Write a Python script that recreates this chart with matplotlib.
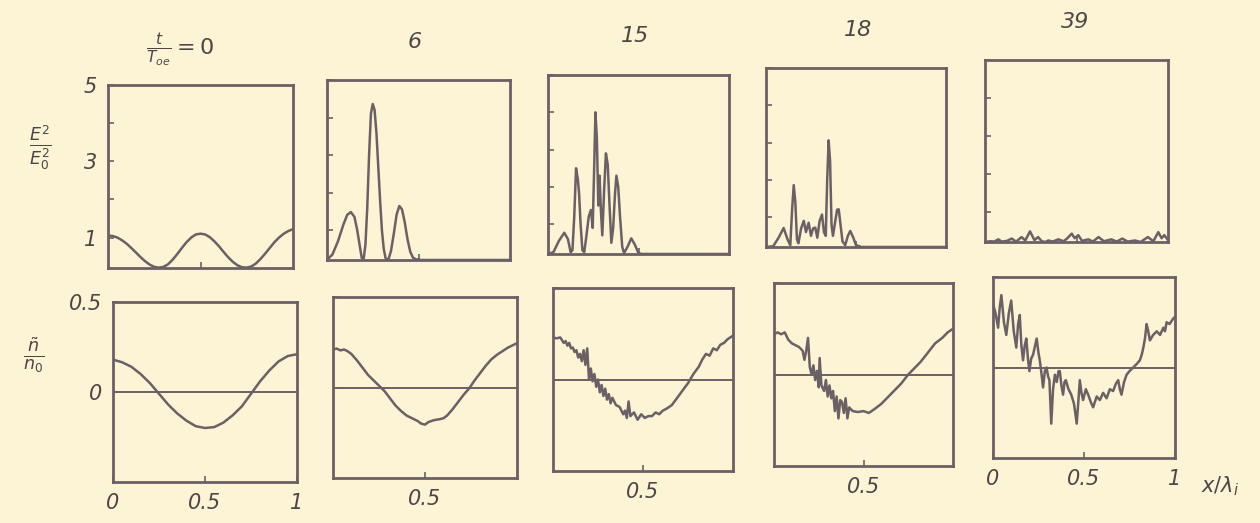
import matplotlib
matplotlib.use("Agg")
import matplotlib.pyplot as plt

plt.rcParams['font.family'] = ['DejaVu Sans']
plt.rcParams['mathtext.fontset'] = 'dejavusans'
plt.rcParams['mathtext.default'] = 'it'

BG = '#fcf4d5'
LC = '#6b6065'
TC = '#4e4547'

# ---------------- data ----------------
times = ['0', '6', '15', '18', '39']

# E^2/E0^2 (top row)
e_x0 = [0, .025, .05, .075, .1, .125, .15, .175, .2, .225, .25, .275, .3, .325, .35, .375, .4, .425, .45, .475,
        .5, .525, .55, .575, .6, .625, .65, .675, .7, .725, .75, .775, .8, .825, .85, .875, .9, .925, .95, .975, 1.0]
e_y0 = [1.05, 1.04, 1.0, .93, .84, .73, .61, .49, .38, .29, .23, .21, .23, .30, .42, .57, .73, .88, 1.0, 1.08,
        1.1, 1.08, 1.01, .90, .77, .62, .48, .36, .27, .22, .21, .24, .32, .44, .58, .73, .88, 1.0, 1.1, 1.17, 1.22]

e_x6 = [0, .03, .06, .09, .11, .13, .15, .165, .18, .19, .2, .21, .22, .23, .24, .25, .26, .27, .28, .29, .30,
        .31, .32, .335, .35, .365, .38, .395, .41, .425, .44, .455, .47, .49, .5, .51, 1.0]
e_y6 = [.2, .35, .7, 1.15, 1.40, 1.48, 1.35, 1.0, .55, .25, .22, .6, 1.6, 3.0, 4.1, 4.36, 4.2, 3.6, 2.7, 1.8, 1.0,
        .5, .25, .2, .45, .9, 1.4, 1.64, 1.55, 1.2, .75, .42, .26, .21, .22, .2, .2]

e_x15 = [0, .03, .06, .09, .11, .125, .135, .145, .155, .165, .172, .18, .19, .2, .21, .225, .237, .247, .255,
         .262, .27, .278, .285, .292, .3, .31, .32, .33, .34, .35, .36, .37, .378, .388, .398, .41, .42, .44,
         .46, .48, .5, .52, 1.0]
e_y15 = [.2, .25, .55, .77, .6, .25, .3, 1.2, 2.5, 2.2, 1.8, 1.0, .3, .25, .6, 1.2, 1.38, .9, 2.5,
         4.0, 3.3, 1.5, 2.3, 1.4, .7, 1.9, 2.9, 2.6, 1.5, .5, .9, 1.8, 2.3, 2.0, 1.2, .4, .22, .4,
         .62, .45, .22, .2, .2]

e_x18 = [0, .04, .07, .098, .12, .135, .145, .154, .163, .172, .18, .195, .21, .222, .237, .25, .262, .274,
         .285, .298, .311, .322, .332, .34, .348, .356, .364, .372, .385, .395, .404, .414, .425, .44, .455,
         .468, .485, .5, .53, 1.0]
e_y18 = [.2, .22, .45, .71, .4, .25, 1.2, 1.86, 1.4, .4, .3, .7, .9, .6, .85, .5, .7, .72,
         .45, .9, 1.07, .6, .5, 2.0, 3.06, 2.5, .8, .5, .9, 1.2, 1.21, .8, .35, .25, .5,
         .63, .45, .25, .2, .2]

e_x39 = [0, .03, .05, .073, .09, .12, .146, .17, .2, .22, .246, .27, .29, .31, .33, .346, .37, .4, .43, .45,
         .474, .49, .51, .53, .565, .59, .62, .65, .69, .72, .75, .78, .82, .85, .89, .92, .947, .965, .98, 1.0]
e_y39 = [.2, .22, .21, .27, .21, .23, .29, .21, .33, .24, .48, .25, .33, .22, .2, .24, .21, .27, .22, .3,
         .42, .3, .38, .23, .27, .21, .33, .22, .27, .21, .29, .21, .24, .2, .33, .22, .46, .3, .38, .25]

# n~/n0 (bottom row)
n_x0 = [0, .05, .1, .15, .2, .25, .3, .35, .4, .45, .5, .55, .6, .65, .7, .75, .8, .85, .9, .95, 1.0]
n_y0 = [.18, .165, .14, .10, .05, -.01, -.07, -.12, -.16, -.19, -.20, -.195, -.17, -.13, -.08, -.01,
        .06, .12, .17, .20, .21]

n_x6 = [0, .02, .04, .06, .08, .1, .13, .16, .19, .22, .25, .28, .31, .34, .37, .4, .43, .46, .48, .5, .52,
        .55, .58, .6, .62, .65, .68, .71, .74, .77, .8, .83, .86, .89, .92, .95, .98, 1.0]
n_y6 = [.21, .215, .205, .21, .20, .185, .15, .11, .07, .04, .01, -.02, -.06, -.10, -.13, -.155, -.17, -.185,
        -.2, -.205, -.19, -.18, -.175, -.17, -.155, -.12, -.08, -.04, -.005, .04, .08, .12, .155, .18, .2,
        .22, .235, .245]

n_x15 = [0, .02, .04, .06, .07, .08, .09, .1, .11, .12, .13, .14, .15, .16, .17, .18, .19, .2, .21, .22, .23,
         .24, .25, .26, .27, .28, .29, .3, .31, .32, .33, .35, .37, .39, .40, .41, .42, .43, .45, .47, .49,
         .51, .53, .55, .57, .59, .61, .63, .66, .69, .72, .75, .78, .81, .83, .85, .87, .89, .91, .93, .95,
         .97, 1.0]
n_y15 = [.23, .225, .23, .2, .21, .185, .2, .17, .175, .15, .16, .12, .14, .10, .16, .08, .17, 0.0, .06, -.01,
         .03, -.04, 0.0, -.07, -.03, -.09, -.05, -.11, -.08, -.13, -.1, -.14, -.15, -.19, -.17, -.21, -.12,
         -.2, -.18, -.22, -.19, -.21, -.2, -.2, -.18, -.19, -.17, -.16, -.14, -.1, -.06, -.02, .03, .07, .11,
         .14, .13, .17, .16, .19, .2, .22, .24]

n_x18 = [0, .02, .04, .06, .08, .1, .12, .14, .16, .17, .18, .19, .2, .21, .22, .23, .24, .25, .255, .265,
         .28, .29, .3, .31, .32, .33, .34, .35, .36, .37, .38, .39, .40, .41, .42, .44, .47, .5, .53, .56,
         .6, .64, .67, .71, .75, .79, .82, .86, .9, .94, .97, 1.0]
n_y18 = [.22, .23, .22, .23, .19, .17, .16, .15, .13, .08, .13, .20, .04, 0.0, .05, -.03, .02, -.07, .09, -.06,
         -.09, -.03, -.12, -.06, -.13, -.09, -.2, -.12, -.24, -.14, -.15, -.21, -.13, -.24, -.18, -.2, -.205,
         -.2, -.21, -.19, -.16, -.12, -.09, -.05, 0.0, .04, .07, .12, .17, .2, .23, .25]

n_x39 = [0, .014, .028, .037, .046, .06, .073, .087, .1, .114, .128, .138, .147, .156, .165, .174, .183, .192,
         .2, .21, .22, .24, .25, .257, .266, .275, .285, .294, .303, .31, .32, .33, .34, .35, .36, .367, .376,
         .385, .393, .4, .415, .43, .445, .46, .468, .477, .486, .495, .51, .523, .537, .55, .57, .587, .605,
         .624, .642, .66, .675, .688, .697, .706, .72, .734, .75, .77, .79, .807, .817, .826, .835, .844, .853,
         .862, .88, .9, .918, .936, .945, .954, .97, .99, 1.0]
n_y39 = [.35, .3, .22, .33, .40, .25, .18, .30, .37, .2, .11, .24, .29, .12, .04, .12, .16, .05,
         -.02, .05, .07, .16, .08, .04, -.03, -.11, -.02, 0.0, -.05, -.07, -.31, -.12, -.04, -.08, -.02,
         -.02, -.1, -.15, -.08, -.07, -.12, -.15, -.2, -.31, -.2, -.07, -.14, -.18, -.12, -.15, -.19,
         -.22, -.16, -.18, -.14, -.17, -.12, -.13, -.09, -.07, -.12, -.15, -.08, -.04, -.02, 0.0, .02, .04,
         .07, .11, .16, .24, .2, .15, .18, .2, .18, .22, .2, .25, .24, .27, .28]

e_series = [(e_x0, e_y0), (e_x6, e_y6), (e_x15, e_y15), (e_x18, e_y18), (e_x39, e_y39)]
n_series = [(n_x0, n_y0), (n_x6, n_y6), (n_x15, n_y15), (n_x18, n_y18), (n_x39, n_y39)]

# panel boxes in pixels: (left, top, right, bottom)
W, H = 1260, 523
top_boxes = [(108, 85, 293, 268), (327, 80, 510, 260), (548, 75, 729, 254),
             (766, 68, 946, 247), (985, 60, 1168, 242)]
bot_boxes = [(113, 302, 297, 482), (333, 297, 517, 478), (553, 288, 733, 471),
             (774, 283, 953, 466), (993, 277, 1175, 458)]


def box_to_rect(b):
    l, t, r, bt = b
    return [l / W, 1 - bt / H, (r - l) / W, (bt - t) / H]


fig = plt.figure(figsize=(12.6, 5.23), dpi=100)
fig.patch.set_facecolor(BG)


def style(ax):
    ax.set_facecolor(BG)
    for s in ax.spines.values():
        s.set_color(LC)
        s.set_linewidth(2.0)
    ax.tick_params(direction='in', length=4, width=1.2, color=LC, labelcolor=TC,
                   labelsize=15, pad=8)
    for lab in ax.get_xticklabels() + ax.get_yticklabels():
        lab.set_fontstyle('italic')


for i in range(5):
    ax = fig.add_axes(box_to_rect(top_boxes[i]))
    x, y = e_series[i]
    ax.plot(x, y, color=LC, lw=1.8)
    ax.set_xlim(0, 1)
    ax.set_ylim(0.2, 5.0)
    ax.set_xticks([0.5])
    ax.set_xticklabels([''])
    ax.set_yticks([1, 2, 3, 4, 5])
    if i == 0:
        ax.set_yticklabels(['1', '', '3', '', '5'])
    else:
        ax.set_yticklabels([''] * 5)
    style(ax)

for i in range(5):
    ax = fig.add_axes(box_to_rect(bot_boxes[i]))
    x, y = n_series[i]
    ax.plot(x, y, color=LC, lw=1.8)
    ax.axhline(0, color=LC, lw=1.4)
    ax.set_xlim(0, 1)
    ax.set_ylim(-0.5, 0.5)
    if i in (0, 4):
        ax.set_xticks([0, 0.5, 1])
        ax.set_xticklabels(['0', '0.5', '1'])
    else:
        ax.set_xticks([0.5])
        ax.set_xticklabels(['0.5'])
    ax.set_yticks([0, 0.5])
    if i == 0:
        ax.set_yticklabels(['0', '0.5'])
    else:
        ax.set_yticklabels(['', ''])
    style(ax)

# time labels
title_pos = [(180, 50), (415, 42), (635, 36), (858, 30), (1075, 22)]
for i, t in enumerate(times):
    px, py = title_pos[i]
    if i == 0:
        s = r'$\frac{t}{T_{oe}}=0$'
    else:
        s = t
    fig.text(px / W, 1 - py / H, s, ha='center', va='center', fontsize=16,
             color=TC, fontstyle='italic')

fig.text(40 / W, 1 - 148 / H, r'$\frac{E^2}{E_0^2}$', ha='center', va='center',
         fontsize=18, color=TC)
fig.text(34 / W, 1 - 355 / H, r'$\frac{\tilde{n}}{n_0}$', ha='center', va='center',
         fontsize=18, color=TC)
fig.text(1220 / W, 1 - 486 / H, r'$x/\lambda_i$', ha='center', va='center',
         fontsize=15, color=TC)

fig.savefig('out.png', dpi=100, facecolor=BG)
